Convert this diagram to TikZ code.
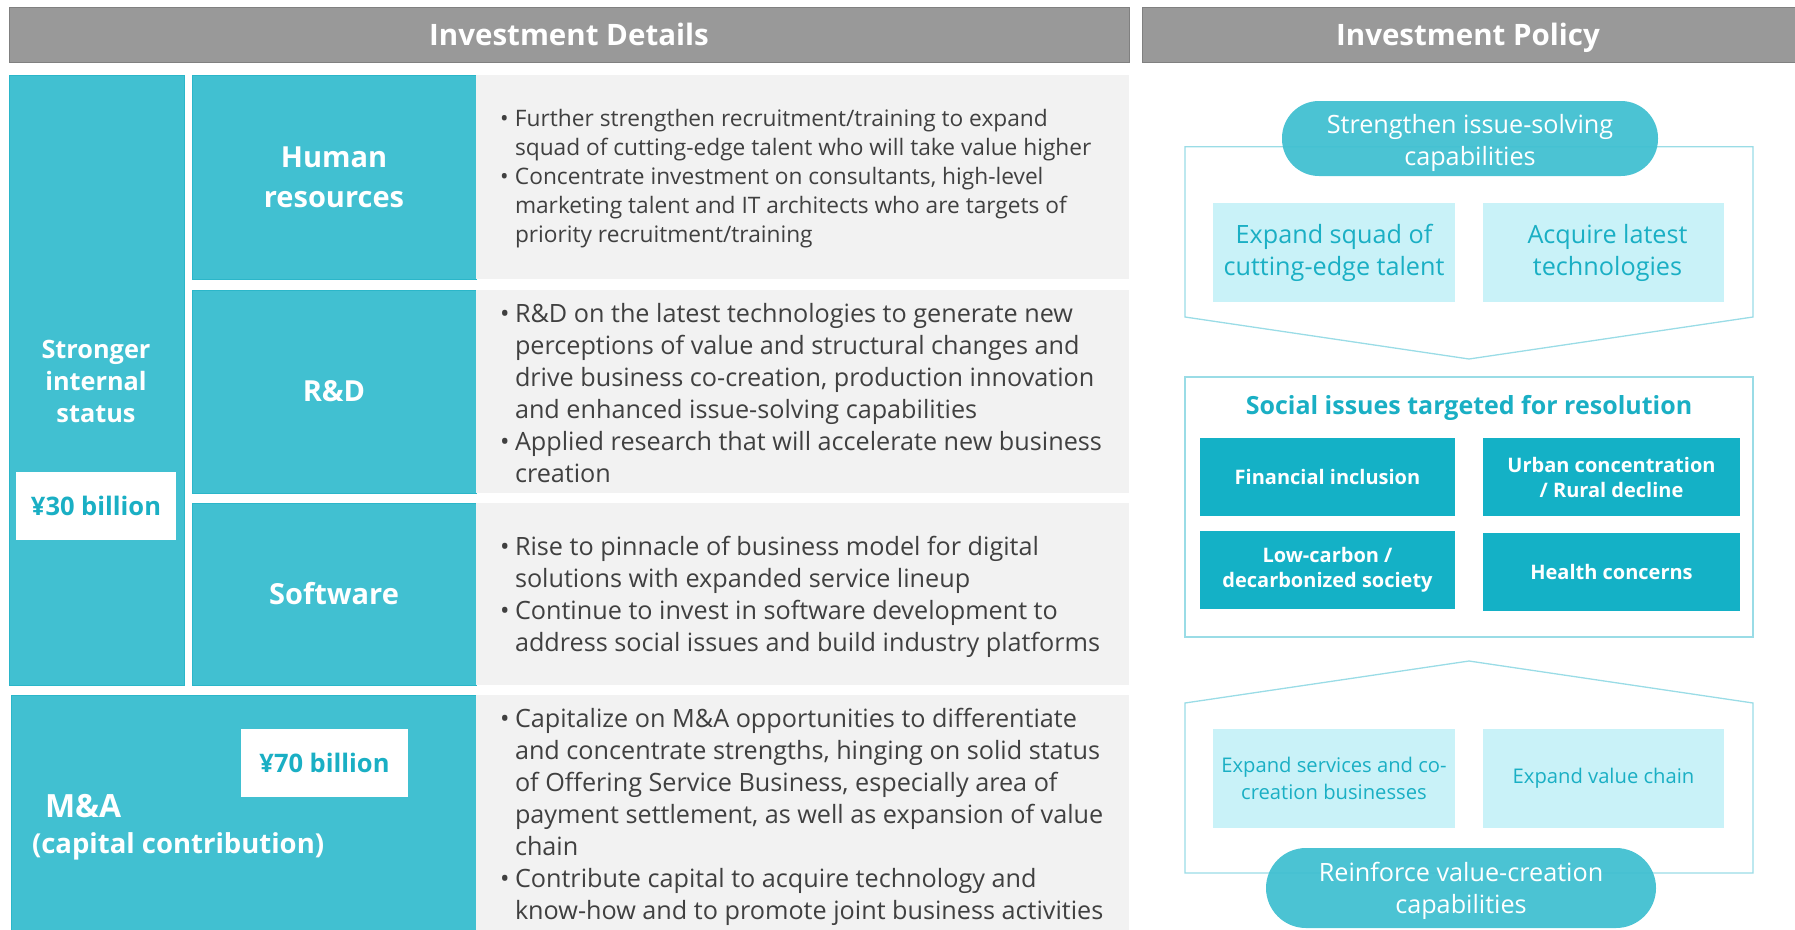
\documentclass[tikz,border=0pt]{standalone}
\usepackage{fontspec}
\setmainfont{Open Sans}
\usepackage{xcolor}
\usepackage{tikz}

\definecolor{hdrgray}{HTML}{999999}
\definecolor{hdredge}{HTML}{808080}
\definecolor{tealbox}{HTML}{41C0D1}
\definecolor{tealedge}{HTML}{2BB6C9}
\definecolor{tealdark}{HTML}{14B1C6}
\definecolor{tealtext}{HTML}{1AAFC4}
\definecolor{cyanlight}{HTML}{C9F2F8}
\definecolor{outline}{HTML}{9ADCE6}
\definecolor{panelgray}{HTML}{F2F2F2}
\definecolor{bodytext}{HTML}{404040}

\newcommand{\bul}{\makebox[15pt][l]{•}}
\newcommand{\ind}{\hspace*{15pt}}

\begin{document}
\begin{tikzpicture}[x=1pt,y=-1pt,
  every node/.style={inner sep=0pt,outer sep=0pt},
  hbar/.style={fill=hdrgray,draw=hdredge,line width=1pt,text=white,
    text height=21pt,text depth=0pt,font=\fontsize{29.5}{34}\selectfont\bfseries},
  tealblock/.style={fill=tealbox,draw=tealedge,line width=0.8pt,text=white,
    align=center,font=\fontsize{29}{40}\selectfont\bfseries},
  panel/.style={fill=panelgray},
  bodyhr/.style={text=bodytext,align=left,anchor=west,
    font=\fontsize{22.7}{29}\selectfont},
  body/.style={text=bodytext,align=left,anchor=west,
    font=\fontsize{25.2}{32}\selectfont},
  yenbox/.style={fill=white,text=tealtext,font=\fontsize{25.5}{30}\selectfont\bfseries},
  frame/.style={draw=outline,line width=1.3pt},
  pill/.style={fill=tealbox,fill opacity=0.95},
  pilltext/.style={text=white,align=center,font=\fontsize{25.2}{32}\selectfont},
  lightbox/.style={fill=cyanlight,text=tealtext,align=center},
  issue/.style={fill=tealdark,text=white,align=center,
    font=\fontsize{20}{25}\selectfont\bfseries}]

\useasboundingbox (0,0) rectangle (1795,929);

% headers
\node[hbar,minimum width=1120,minimum height=55] (hdetails) at (569,34.5)
  {Investment Details};
\node[hbar,minimum width=658,minimum height=55] (hpolicy) at (1471,34.5)
  {\hspace*{-6pt}Investment Policy};

% left column
\node[tealblock,minimum width=175,minimum height=610] (internal) at (96.5,380) {};
\node[text=white,align=center,font=\fontsize{25.3}{32}\selectfont\bfseries]
  (internaltxt) at (96,381) {Stronger\\internal\\status};
\node[yenbox,minimum width=160,minimum height=68] (yen30) at (96,506) {¥30 billion};

\node[tealblock,minimum width=284,minimum height=204] (hr) at (334,177) {Human\\resources};
\node[tealblock,minimum width=284,minimum height=203] (rd) at (334,391.5) {R\&D};
\node[tealblock,minimum width=284,minimum height=182] (sw) at (334,594) {Software};
\node[tealblock,minimum width=466,minimum height=240] (ma) at (244,815) {};
\node[yenbox,minimum width=167,minimum height=68] (yen70) at (324.5,763) {¥70 billion};
\node[text=white,anchor=west,font=\fontsize{32}{36}\selectfont\bfseries]
  (matitle) at (45,806) {M\&A};
\node[text=white,anchor=west,font=\fontsize{27.5}{32}\selectfont\bfseries]
  (masub) at (32,846) {(capital contribution)};

% detail panels
\node[panel,minimum width=653,minimum height=204] (hrpanel) at (802.5,177) {};
\node[panel,minimum width=653,minimum height=203] (rdpanel) at (802.5,391.5) {};
\node[panel,minimum width=653,minimum height=182] (swpanel) at (802.5,594) {};
\node[panel,minimum width=653,minimum height=240] (mapanel) at (802.5,815) {};

\node[bodyhr] (hrtext) at (500,179) {%
  \bul Further strengthen recruitment/training to expand\\
  \ind squad of cutting-edge talent who will take value higher\\
  \bul Concentrate investment on consultants, high-level\\
  \ind marketing talent and IT architects who are targets of\\
  \ind priority recruitment/training};
\node[body] (rdtext) at (500,393) {%
  \bul R\&D on the latest technologies to generate new\\
  \ind perceptions of value and structural changes and\\
  \ind drive business co-creation, production innovation\\
  \ind and enhanced issue-solving capabilities\\
  \bul Applied research that will accelerate new business\\
  \ind creation};
\node[body] (swtext) at (500,597) {%
  \bul Rise to pinnacle of business model for digital\\
  \ind solutions with expanded service lineup\\
  \bul Continue to invest in software development to\\
  \ind address social issues and build industry platforms};
\node[body] (matext) at (500,817) {%
  \bul Capitalize on M\&A opportunities to differentiate\\
  \ind and concentrate strengths, hinging on solid status\\
  \ind of Offering Service Business, especially area of\\
  \ind payment settlement, as well as expansion of value\\
  \ind chain\\
  \bul Contribute capital to acquire technology and\\
  \ind know-how and to promote joint business activities};

% policy side
\draw[frame] (1185,146.7) -- (1185,317) -- (1469,359) -- (1753,317)
  -- (1753,146.7) -- cycle;
\node[pill,minimum width=376,minimum height=75,rounded corners=37pt]
  (solving) at (1470,138.5) {};
\node[pilltext] (solvingtxt) at (1470,142.5) {Strengthen issue-solving\\capabilities};
\node[lightbox,minimum width=242,minimum height=99,font=\fontsize{25.2}{32}\selectfont]
  (squad) at (1334,252.5) {Expand squad of\\cutting-edge talent};
\node[lightbox,minimum width=241,minimum height=99,font=\fontsize{25.2}{32}\selectfont]
  (latest) at (1603.5,252.5) {\hspace*{8pt}Acquire latest\\\hspace*{8pt}technologies};

\draw[frame] (1185,377) rectangle (1753,637);
\node[text=tealtext,font=\fontsize{25}{28}\selectfont\bfseries] (issues) at (1469,408)
  {Social issues targeted for resolution};
\node[issue,minimum width=255,minimum height=78] (finance) at (1327.5,477)
  {Financial inclusion};
\node[issue,minimum width=257,minimum height=78] (urban) at (1611.5,477)
  {Urban concentration\\/ Rural decline};
\node[issue,minimum width=255,minimum height=78] (carbon) at (1327.5,570)
  {Low-carbon /\\decarbonized society};
\node[issue,minimum width=257,minimum height=78] (health) at (1611.5,572)
  {Health concerns};

\draw[frame] (1185,703) -- (1469,661) -- (1753,703) -- (1753,873)
  -- (1185,873) -- cycle;
\node[lightbox,minimum width=242,minimum height=99,font=\fontsize{20.2}{27}\selectfont]
  (services) at (1334,778.5) {Expand services and co-\\creation businesses};
\node[lightbox,minimum width=241,minimum height=99,font=\fontsize{20.2}{27}\selectfont]
  (chain) at (1603.5,778.5) {Expand value chain};
\node[pill,minimum width=390,minimum height=80,rounded corners=40pt]
  (creation) at (1461,888) {};
\node[pilltext] (creationtxt) at (1461,891) {Reinforce value-creation\\capabilities};
\end{tikzpicture}
\end{document}
